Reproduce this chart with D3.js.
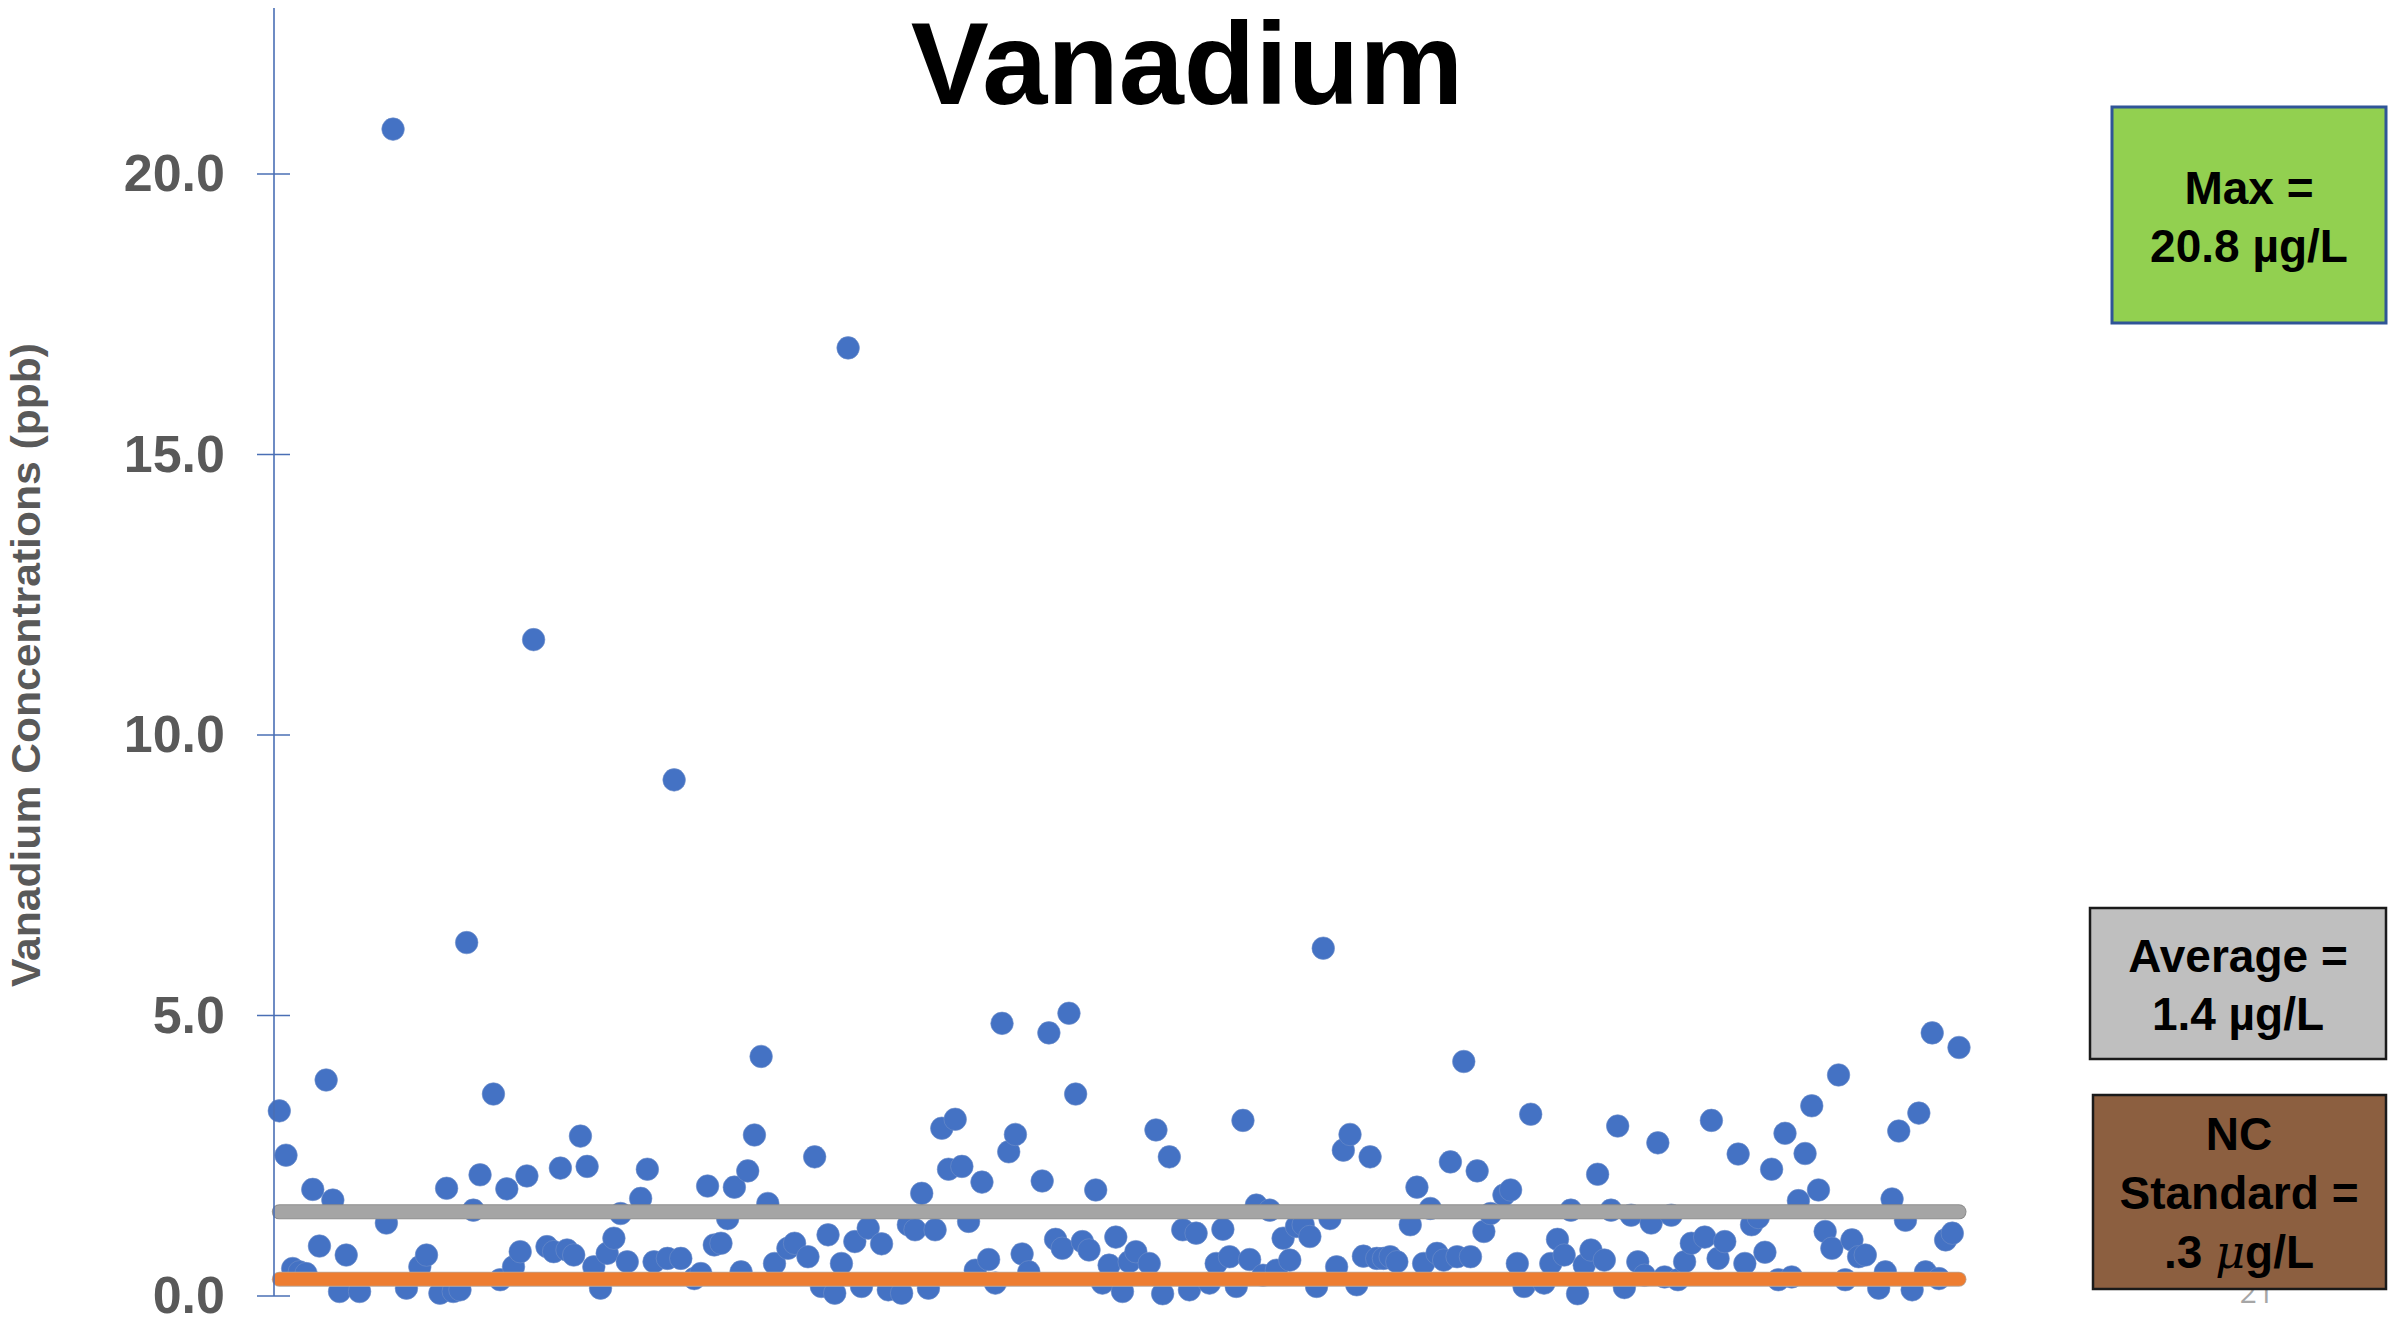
<!DOCTYPE html>
<html>
<head>
<meta charset="utf-8">
<script src="https://cdn.jsdelivr.net/npm/d3@7"></script>
<style>
  html, body { margin: 0; padding: 0; background: #ffffff; }
  svg { display: block; }
</style>
</head>
<body>
<svg id="chart" width="2389" height="1322"></svg>
<script>
// ---------- DATA ----------
const chartTitle = "Vanadium";
const yAxisTitle = "Vanadium Concentrations (ppb)";
const yTickValues = [0, 5, 10, 15, 20];
const yTickLabels = ["0.0", "5.0", "10.0", "15.0", "20.0"];

const sampleIds = [0,1,2,3,4,5,6,7,8,9,10,12,16,17,19,21,22,24,25,26,27,28,29,30,32,33,34,35,36,37,38,40,41,42,43,44,45,46,47,48,49,50,51,52,54,55,56,58,59,60,62,63,64,65,66,67,68,69,70,71,72,73,74,76,77,79,80,81,82,83,84,85,86,87,88,90,91,93,94,95,96,97,98,99,100,101,102,103,104,105,106,107,108,109,110,111,112,114,115,116,117,118,119,120,121,122,123,124,125,126,127,128,130,131,132,133,135,136,137,139,140,141,142,143,144,145,146,147,148,149,150,151,152,153,154,155,156,157,158,159,160,161,162,163,164,165,166,167,169,170,171,172,173,174,175,176,177,178,179,180,181,183,184,185,186,187,189,190,191,192,193,194,195,196,197,198,199,200,201,202,203,204,205,206,207,208,209,210,211,213,214,215,216,218,219,220,221,222,223,224,225,226,227,228,229,230,231,232,233,234,235,236,237,239,240,241,242,243,244,245,246,247,248,249,250,251];

const concentrations = [3.30,2.51,0.49,0.43,0.40,1.90,0.89,3.85,1.71,0.08,0.73,0.08,1.30,20.8,0.14,0.52,0.73,0.05,1.92,0.08,0.11,6.3,1.53,2.16,3.60,0.29,1.91,0.52,0.79,2.14,11.7,0.88,0.79,2.28,0.82,0.73,2.85,2.31,0.52,0.14,0.76,1.03,1.47,0.61,1.74,2.26,0.61,0.67,9.2,0.67,0.31,0.40,1.96,0.91,0.94,1.38,1.94,0.43,2.23,2.87,4.27,1.65,0.58,0.85,0.94,0.70,2.48,0.17,1.09,0.05,0.58,16.9,0.97,0.17,1.21,0.93,0.11,0.05,1.27,1.18,1.83,0.14,1.18,2.99,2.26,3.15,2.31,1.33,0.46,2.03,0.65,0.23,4.86,2.57,2.88,0.75,0.43,2.05,4.69,1.01,0.85,5.04,3.60,0.97,0.82,1.89,0.23,0.55,1.05,0.08,0.61,0.79,0.58,2.96,0.04,2.48,1.18,0.11,1.12,0.23,0.58,1.19,0.70,0.17,3.13,0.65,1.62,0.37,1.53,0.46,1.03,0.64,1.24,1.27,1.06,0.17,6.2,1.38,0.52,2.60,2.88,0.20,0.71,2.48,0.67,0.67,0.70,0.61,1.27,1.94,0.58,1.56,0.76,0.64,2.39,0.70,4.18,0.70,2.23,1.15,1.47,1.80,1.89,0.58,0.17,3.24,0.23,0.58,1.01,0.73,1.53,0.04,0.55,0.82,2.17,0.64,1.53,3.03,0.15,1.44,0.61,0.37,1.30,2.73,0.34,1.44,0.29,0.61,0.94,1.05,3.13,0.67,0.97,2.53,0.58,1.27,1.40,0.78,2.26,0.29,2.90,0.34,1.70,2.54,3.39,1.89,1.15,0.85,3.94,0.29,1.00,0.70,0.73,0.14,0.43,1.73,2.94,1.35,0.11,3.26,0.43,4.69,0.31,1.00,1.12,4.43];

const averageLine = [1.5, 1.5];     // grey reference line
const standardLine = [0.3, 0.3];    // orange NC standard line
const lineExtent = [0, 251];

const maxBoxLines = ["Max =", "20.8 \u00B5g/L"];
const avgBoxLines = ["Average =", "1.4 \u00B5g/L"];
const ncBoxLines = ["NC", "Standard ="];
const ncLastLine = [".3 ", "\u03BC", "g/L"];
const slideNumber = "21";

// ---------- LAYOUT ----------
const svg = d3.select("#chart");
const FONT = "'Liberation Sans', Arial, sans-serif";
const axisX = 274;

const x = d3.scaleLinear().domain([0, 251]).range([279.3, 1959]);
const y = d3.scaleLinear().domain([0, 23]).range([1296, 5.7]);

// title
svg.append("text")
  .attr("x", 1187).attr("y", 104)
  .attr("text-anchor", "middle")
  .attr("font-family", FONT).attr("font-weight", "bold")
  .attr("font-size", 117).attr("fill", "#000")
  .text(chartTitle);

// y axis title
svg.append("text")
  .attr("transform", "translate(40,665) rotate(-90)")
  .attr("text-anchor", "middle")
  .attr("font-family", FONT).attr("font-weight", "bold")
  .attr("font-size", 40).attr("fill", "#595959")
  .attr("textLength", 644).attr("lengthAdjust", "spacingAndGlyphs")
  .text(yAxisTitle);

// points
svg.append("g").selectAll("circle")
  .data(sampleIds.map((s, i) => ({ s, v: concentrations[i] })))
  .join("circle")
  .attr("cx", d => x(d.s))
  .attr("cy", d => y(d.v))
  .attr("r", 11.3)
  .attr("fill", "#4472C4")
  .attr("stroke", "#6f8fc9").attr("stroke-width", 0.6);

// reference lines
const line = d3.line().x((d, i) => x(lineExtent[i])).y(d => y(d));
function refLine(data, color, edge) {
  svg.append("path").datum(data)
    .attr("d", line).attr("fill", "none")
    .attr("stroke", edge).attr("stroke-width", 15).attr("stroke-linecap", "round");
  svg.append("path").datum(data)
    .attr("d", line).attr("fill", "none")
    .attr("stroke", color).attr("stroke-width", 13.4).attr("stroke-linecap", "round");
}
refLine(averageLine, "#A5A5A5", "#8c8c8c");
refLine(standardLine, "#ED7D31", "#b9aa9f");

// y axis
const axisG = svg.append("g").attr("transform", `translate(${axisX},0)`);
axisG.call(d3.axisLeft(y).tickValues(yTickValues).tickSize(0).tickPadding(49)
  .tickFormat((d, i) => yTickLabels[i]));
axisG.select(".domain").remove();
axisG.selectAll("text")
  .attr("font-family", FONT).attr("font-weight", "bold")
  .attr("font-size", 52).attr("fill", "#595959");
axisG.append("line")
  .attr("x1", 0).attr("x2", 0).attr("y1", 8).attr("y2", y(0))
  .attr("stroke", "#4A6FB5").attr("stroke-width", 1.6);
axisG.selectAll(".tk").data(yTickValues).join("line").attr("class", "tk")
  .attr("x1", -17).attr("x2", 16)
  .attr("y1", d => y(d)).attr("y2", d => y(d))
  .attr("stroke", "#4A6FB5").attr("stroke-width", 1.6);

// slide number (behind the box)
svg.append("text")
  .attr("x", 2257).attr("y", 1303)
  .attr("text-anchor", "middle")
  .attr("font-family", "'Open Sans', sans-serif")
  .attr("font-size", 30).attr("fill", "#A6A6A6")
  .text(slideNumber);

// boxes
function box(x0, y0, x1, y1, fill, stroke, sw) {
  svg.append("rect")
    .attr("x", x0).attr("y", y0).attr("width", x1 - x0).attr("height", y1 - y0)
    .attr("fill", fill).attr("stroke", stroke).attr("stroke-width", sw);
}
function boxText(cx, baseline, str) {
  return svg.append("text")
    .attr("x", cx).attr("y", baseline)
    .attr("text-anchor", "middle")
    .attr("font-family", FONT).attr("font-weight", "bold")
    .attr("font-size", 46).attr("fill", "#000")
    .text(str);
}

box(2112, 107, 2386, 323, "#92D050", "#2F5597", 3);
boxText(2249, 204, maxBoxLines[0]);
boxText(2249, 262, maxBoxLines[1]);

box(2090, 908, 2386, 1059, "#BFBFBF", "#1a1a1a", 2.5);
boxText(2238, 972, avgBoxLines[0]);
boxText(2238, 1030, avgBoxLines[1]);

box(2093, 1095, 2386, 1289, "#8C5F40", "#1a1a1a", 2.5);
boxText(2239, 1150, ncBoxLines[0]);
boxText(2239, 1209, ncBoxLines[1]);
const last = boxText(2239, 1268, "");
last.append("tspan").text(ncLastLine[0]);
last.append("tspan").attr("font-style", "italic").attr("font-weight", "normal")
  .attr("font-family", "'DejaVu Serif', serif").text(ncLastLine[1]);
last.append("tspan").text(ncLastLine[2]);
</script>
</body>
</html>
